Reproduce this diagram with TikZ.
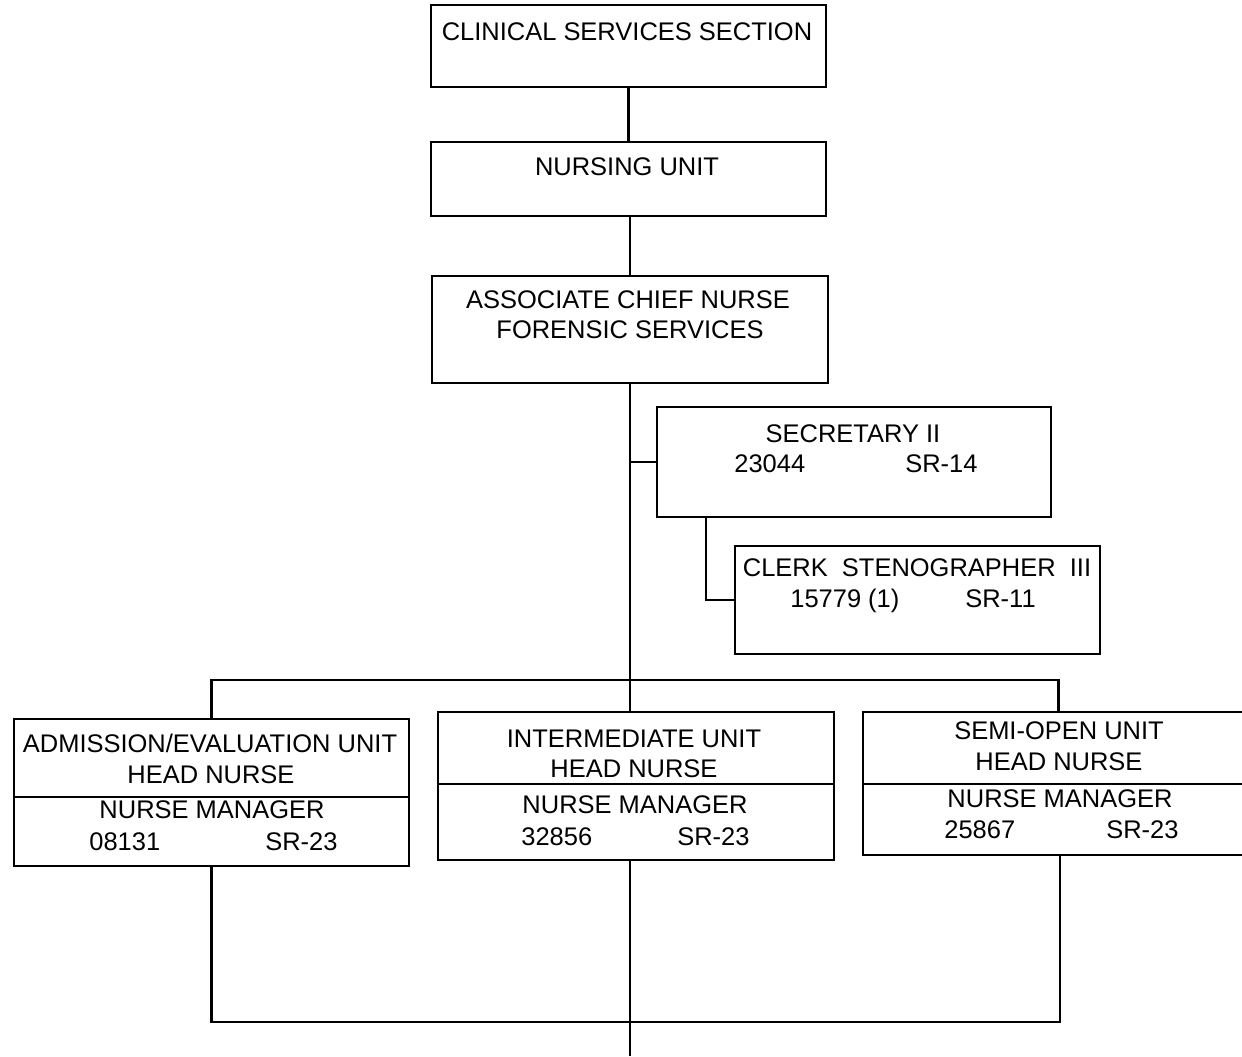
\documentclass[tikz,border=0pt]{standalone}
\usepackage{fontspec}
\setmainfont{Liberation Sans}
\usetikzlibrary{fit}
\begin{document}
\begin{tikzpicture}[x=0.02cm,y=-0.02cm,
  box/.style={draw,line width=1.3pt,inner sep=0pt,rectangle},
  txt/.style={anchor=base,inner sep=0pt,font=\fontsize{14.5}{17}\selectfont},
  txtl/.style={anchor=base west,inner sep=0pt,font=\fontsize{14.5}{17}\selectfont},
  conn/.style={line width=1.3pt}]
\useasboundingbox (0,0) rectangle (1242,1056);
\clip (0,0) rectangle (1242,1056);
% boxes
\node[box,fit={(431,5) (826,87)}] (css) {};
\node[box,fit={(431,142) (826,216)}] (nu) {};
\node[box,fit={(432,276) (828,383)}] (acn) {};
\node[box,fit={(657,407) (1051,517)}] (sec) {};
\node[box,fit={(735,546) (1100,654)}] (clk) {};
\node[box,fit={(14,719) (409,866)}] (adm) {};
\node[box,fit={(438,712) (834,860)}] (int) {};
\node[box,fit={(863,712) (1262,855)}] (semi) {};
% dividers
\draw[conn] (adm.west |- 0,797) -- (adm.east |- 0,797);
\draw[conn] (int.west |- 0,784) -- (int.east |- 0,784);
\draw[conn] (semi.west |- 0,784) -- (semi.east |- 0,784);
% texts
\node[txt] (t1) at (627,40) {CLINICAL SERVICES SECTION};
\node[txt] (t2) at (627,175) {NURSING UNIT};
\node[txt] (t3a) at (628,308) {ASSOCIATE CHIEF NURSE};
\node[txt] (t3b) at (630,338) {FORENSIC SERVICES};
\node[txt] (t4a) at (853,442) {SECRETARY II};
\node[txtl] (t4b) at (734,472) {23044};
\node[txtl] (t4c) at (905,472) {SR-14};
\node[txt] (t5a) at (917,576) {CLERK\ \ STENOGRAPHER\ \ III};
\node[txtl] (t5b) at (790,607) {15779 (1)};
\node[txtl] (t5c) at (965,607) {SR-11};
\node[txt] (t6a) at (210,752) {ADMISSION/EVALUATION UNIT};
\node[txt] (t6b) at (211,783) {HEAD NURSE};
\node[txt] (t6c) at (212,818) {NURSE MANAGER};
\node[txtl] (t6d) at (89,850) {08131};
\node[txtl] (t6e) at (265,850) {SR-23};
\node[txt] (t7a) at (634,747) {INTERMEDIATE UNIT};
\node[txt] (t7b) at (634,777) {HEAD NURSE};
\node[txt] (t7c) at (635,813) {NURSE MANAGER};
\node[txtl] (t7d) at (521,845) {32856};
\node[txtl] (t7e) at (677,845) {SR-23};
\node[txt] (t8a) at (1059,739) {SEMI-OPEN UNIT};
\node[txt] (t8b) at (1059,770) {HEAD NURSE};
\node[txt] (t8c) at (1060,807) {NURSE MANAGER};
\node[txtl] (t8d) at (944,838) {25867};
\node[txtl] (t8e) at (1106,838) {SR-23};
% connectors
\coordinate (bus) at (630,680);
\coordinate (lowbus) at (630,1022);
\coordinate (bot) at (630,1056);
\draw[conn] (css.south) -- (nu.north);
\draw[conn] (nu.south) -- (acn.south |- nu.south) -- (acn.north);
\draw[conn] (acn.south) -- (acn.south |- bus);
\draw[conn] (sec.west) -- (acn.south |- sec.west);
\draw[conn] ([xshift=1cm]sec.south west) |- (clk.west);
\draw[conn] (adm.north) |- (bus) -| ([xshift=-0.08cm]semi.north);
\draw[conn] (bus) -- (int.north -| bus);
\draw[conn] (adm.south) |- (lowbus) -| ([xshift=-0.05cm]semi.south);
\draw[conn] (int.south -| bus) -- (bot);
\end{tikzpicture}
\end{document}
